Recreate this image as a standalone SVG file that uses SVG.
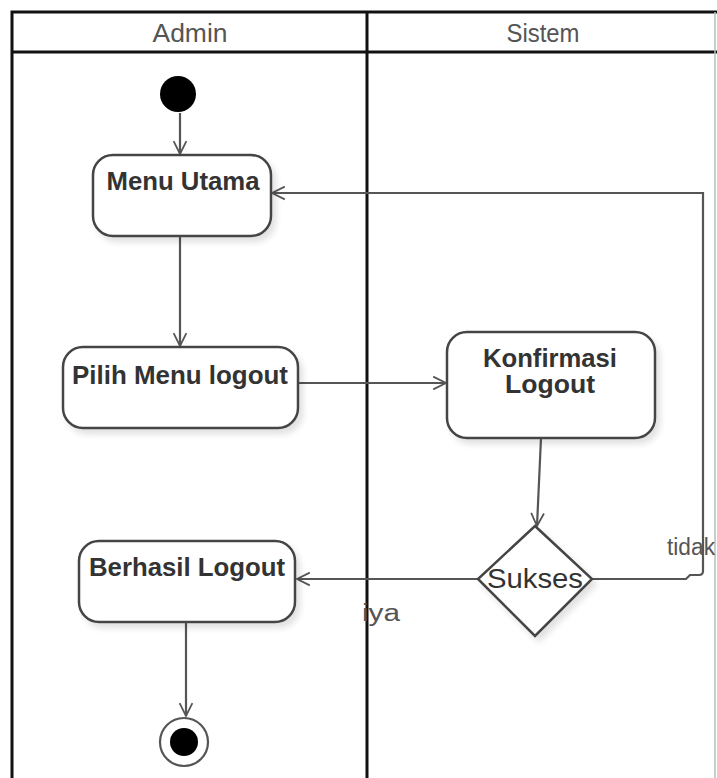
<svg xmlns="http://www.w3.org/2000/svg" width="717" height="778" viewBox="0 0 717 778">
  <style>
    .lane { fill: none; stroke: #111; stroke-width: 3; }
    .head { font-family: "Liberation Sans", Arial, sans-serif; font-size: 25px; fill: #555; text-anchor: middle; }
    .act { fill: #fff; stroke: #444; stroke-width: 2.5; filter: url(#shadow); }
    .lbl { font-family: "Liberation Sans", Arial, sans-serif; font-size: 25px; font-weight: bold; fill: #333; text-anchor: middle; }
    .edge { fill: none; stroke: #555; stroke-width: 2.2; }
    .guard { font-family: "Liberation Sans", Arial, sans-serif; font-size: 23px; fill: #555; }
  </style>
  <defs>
    <filter id="shadow" x="-10%" y="-10%" width="130%" height="140%">
      <feGaussianBlur in="SourceAlpha" stdDeviation="3"/>
      <feOffset dx="4" dy="5" result="b"/>
      <feComponentTransfer><feFuncA type="linear" slope="0.12"/></feComponentTransfer>
      <feMerge><feMergeNode/><feMergeNode in="SourceGraphic"/></feMerge>
    </filter>
    <marker id="open" viewBox="0 0 20 20" refX="18" refY="10" markerWidth="16" markerHeight="16" markerUnits="userSpaceOnUse" orient="auto">
      <path d="M2,2 L18,10 L2,18" fill="none" stroke="#555" stroke-width="2.2"/>
    </marker>
  </defs>

  <rect width="717" height="778" fill="#fff"/>

  <!-- swimlanes -->
  <g id="lanes">
    <path class="lane" d="M12,790 V12 H730 M12,52 H730 M367,12 V790"/>
    <line x1="715" y1="12" x2="715" y2="778" stroke="#bbb" stroke-width="1.5"/>
    <text class="head" x="190" y="42" textLength="75" lengthAdjust="spacingAndGlyphs">Admin</text>
    <text class="head" x="543" y="42" textLength="73" lengthAdjust="spacingAndGlyphs">Sistem</text>
  </g>

  <!-- connectors -->
  <g id="connectors">
    <path class="edge" d="M180,113 V154" marker-end="url(#open)"/>
    <path class="edge" d="M180,236 V346" marker-end="url(#open)"/>
    <path class="edge" d="M298,383 H446" marker-end="url(#open)"/>
    <path class="edge" d="M541,438 L537,526" marker-end="url(#open)"/>
    <path class="edge" d="M478,579 H297" marker-end="url(#open)"/>
    <path class="edge" d="M592,579 H686 L690,575 H699 Q703,575 703,571 V193 H272" marker-end="url(#open)"/>
    <path class="edge" d="M186,622 V716" marker-end="url(#open)"/>
    <text class="guard" x="362" y="621" textLength="38" lengthAdjust="spacingAndGlyphs">iya</text>
    <text class="guard" x="667" y="555" textLength="48" lengthAdjust="spacingAndGlyphs">tidak</text>
  </g>

  <g id="start">
    <circle cx="178" cy="94" r="18" fill="#000"/>
  </g>

  <g id="menu-utama">
    <rect class="act" x="93" y="155" width="178" height="81" rx="20"/>
    <text class="lbl" x="183" y="190" textLength="153" lengthAdjust="spacingAndGlyphs">Menu Utama</text>
  </g>

  <g id="pilih-menu-logout">
    <rect class="act" x="63" y="347" width="235" height="81" rx="20"/>
    <text class="lbl" x="180" y="384" textLength="216" lengthAdjust="spacingAndGlyphs">Pilih Menu logout</text>
  </g>

  <g id="konfirmasi-logout">
    <rect class="act" x="447" y="332" width="208" height="106" rx="20"/>
    <text class="lbl" x="550" y="367" textLength="134" lengthAdjust="spacingAndGlyphs">Konfirmasi</text>
    <text class="lbl" x="550" y="393" textLength="90" lengthAdjust="spacingAndGlyphs">Logout</text>
  </g>

  <g id="sukses">
    <path class="act" d="M535,526 L592,579 L535,636 L478,579 Z" stroke-width="2"/>
    <text x="535" y="588" font-family="'Liberation Sans', Arial, sans-serif" font-size="28" fill="#333" text-anchor="middle" textLength="96" lengthAdjust="spacingAndGlyphs">Sukses</text>
  </g>

  <g id="berhasil-logout">
    <rect class="act" x="79" y="541" width="216" height="81" rx="20"/>
    <text class="lbl" x="187" y="576" textLength="196" lengthAdjust="spacingAndGlyphs">Berhasil Logout</text>
  </g>

  <g id="end">
    <circle cx="184" cy="742" r="24" fill="#fff" stroke="#555" stroke-width="2.2"/>
    <circle cx="184" cy="742" r="14" fill="#000"/>
  </g>
</svg>
